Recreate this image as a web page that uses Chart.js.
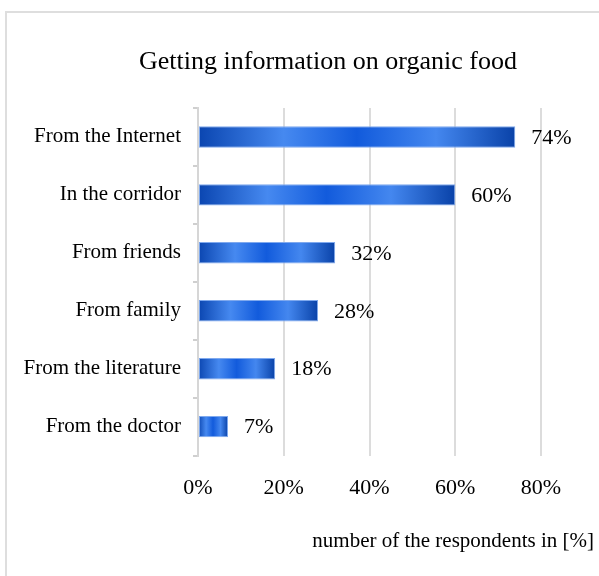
<!DOCTYPE html>
<html>
<head>
<meta charset="utf-8">
<script src="https://cdn.jsdelivr.net/npm/chart.js@4"></script>
<style>
  html, body { margin: 0; padding: 0; background: #fff; overflow: hidden; }
  #frame {
    position: absolute; left: 5px; top: 11px; width: 620px; height: 600px;
    border-left: 2px solid #dedede; border-top: 2px solid #dedede;
  }
  #wrap { position: absolute; left: 0; top: 0; width: 599px; height: 576px; }
</style>
</head>
<body>
<div id="frame"></div>
<div id="wrap"><canvas id="sources"></canvas></div>
<script>
const categories = [
  "From the Internet",
  "In the corridor",
  "From friends",
  "From family",
  "From the literature",
  "From the doctor",
];
const shares = [74, 60, 32, 28, 18, 7];
const tickValues = [0, 20, 40, 60, 80];

const chartTitle = "Getting information on organic food";
const axisTitle = "number of the respondents in [%]";
const serif = "'Liberation Serif', 'Times New Roman', serif";

function barGradient(context) {
  const chart = context.chart;
  if (!chart.chartArea || context.type !== "data") return "#1a5fd8";
  const x = chart.scales.x;
  const x0 = x.getPixelForValue(0);
  const x1 = x.getPixelForValue(context.raw);
  const g = chart.ctx.createLinearGradient(x0, 0, x1, 0);
  g.addColorStop(0, "#0a45b0");
  g.addColorStop(0.27, "#4689f0");
  g.addColorStop(0.5, "#125bdc");
  g.addColorStop(0.75, "#4487ef");
  g.addColorStop(1, "#0942a8");
  return g;
}

// percent labels at the end of each bar, plus the centred title and axis caption
const textPlugin = {
  id: "texts",
  afterDatasetsDraw(chart) {
    const ctx = chart.ctx;
    ctx.save();
    ctx.fillStyle = "#000";
    ctx.font = "22px " + serif;
    ctx.textBaseline = "middle";
    ctx.textAlign = "left";
    chart.getDatasetMeta(0).data.forEach((bar, i) => {
      ctx.fillText(shares[i] + "%", bar.x + 16, bar.y + 1);
    });

    ctx.font = "26px " + serif;
    ctx.textAlign = "center";
    ctx.fillText(chartTitle, 328, 62);

    ctx.font = "21px " + serif;
    ctx.textAlign = "right";
    ctx.fillText(axisTitle, 594, 541);
    ctx.restore();
  },
};

new Chart(document.getElementById("sources"), {
  type: "bar",
  data: {
    labels: categories,
    datasets: [
      {
        data: shares,
        backgroundColor: barGradient,
        borderColor: "#7fa9ee",
        borderWidth: 1,
        borderSkipped: false,
        barPercentage: 0.37,
        categoryPercentage: 1,
      },
    ],
  },
  options: {
    indexAxis: "y",
    responsive: true,
    maintainAspectRatio: false,
    animation: false,
    layout: { padding: { left: 18, right: 58, top: 108, bottom: 56 } },
    plugins: {
      legend: { display: false },
      tooltip: { enabled: false },
      title: { display: false },
    },
    scales: {
      x: {
        min: 0,
        max: 80,
        afterBuildTicks(scale) {
          scale.ticks = tickValues.map((v) => ({ value: v }));
        },
        grid: { color: "#dcdcdc", lineWidth: 2, drawTicks: false },
        border: { display: false },
        ticks: {
          color: "#000",
          font: { family: serif, size: 22 },
          padding: 19,
          callback: (v) => v + "%",
        },
      },
      y: {
        afterFit(scale) {
          scale.width = 180;
        },
        grid: { drawOnChartArea: false, drawTicks: true, tickLength: 5, color: "#cfcfcf", lineWidth: 2 },
        border: { display: true, color: "#d6d6d6", width: 2 },
        ticks: {
          color: "#000",
          font: { family: serif, size: 21 },
          padding: 12,
        },
      },
    },
  },
  plugins: [textPlugin],
});
</script>
</body>
</html>
